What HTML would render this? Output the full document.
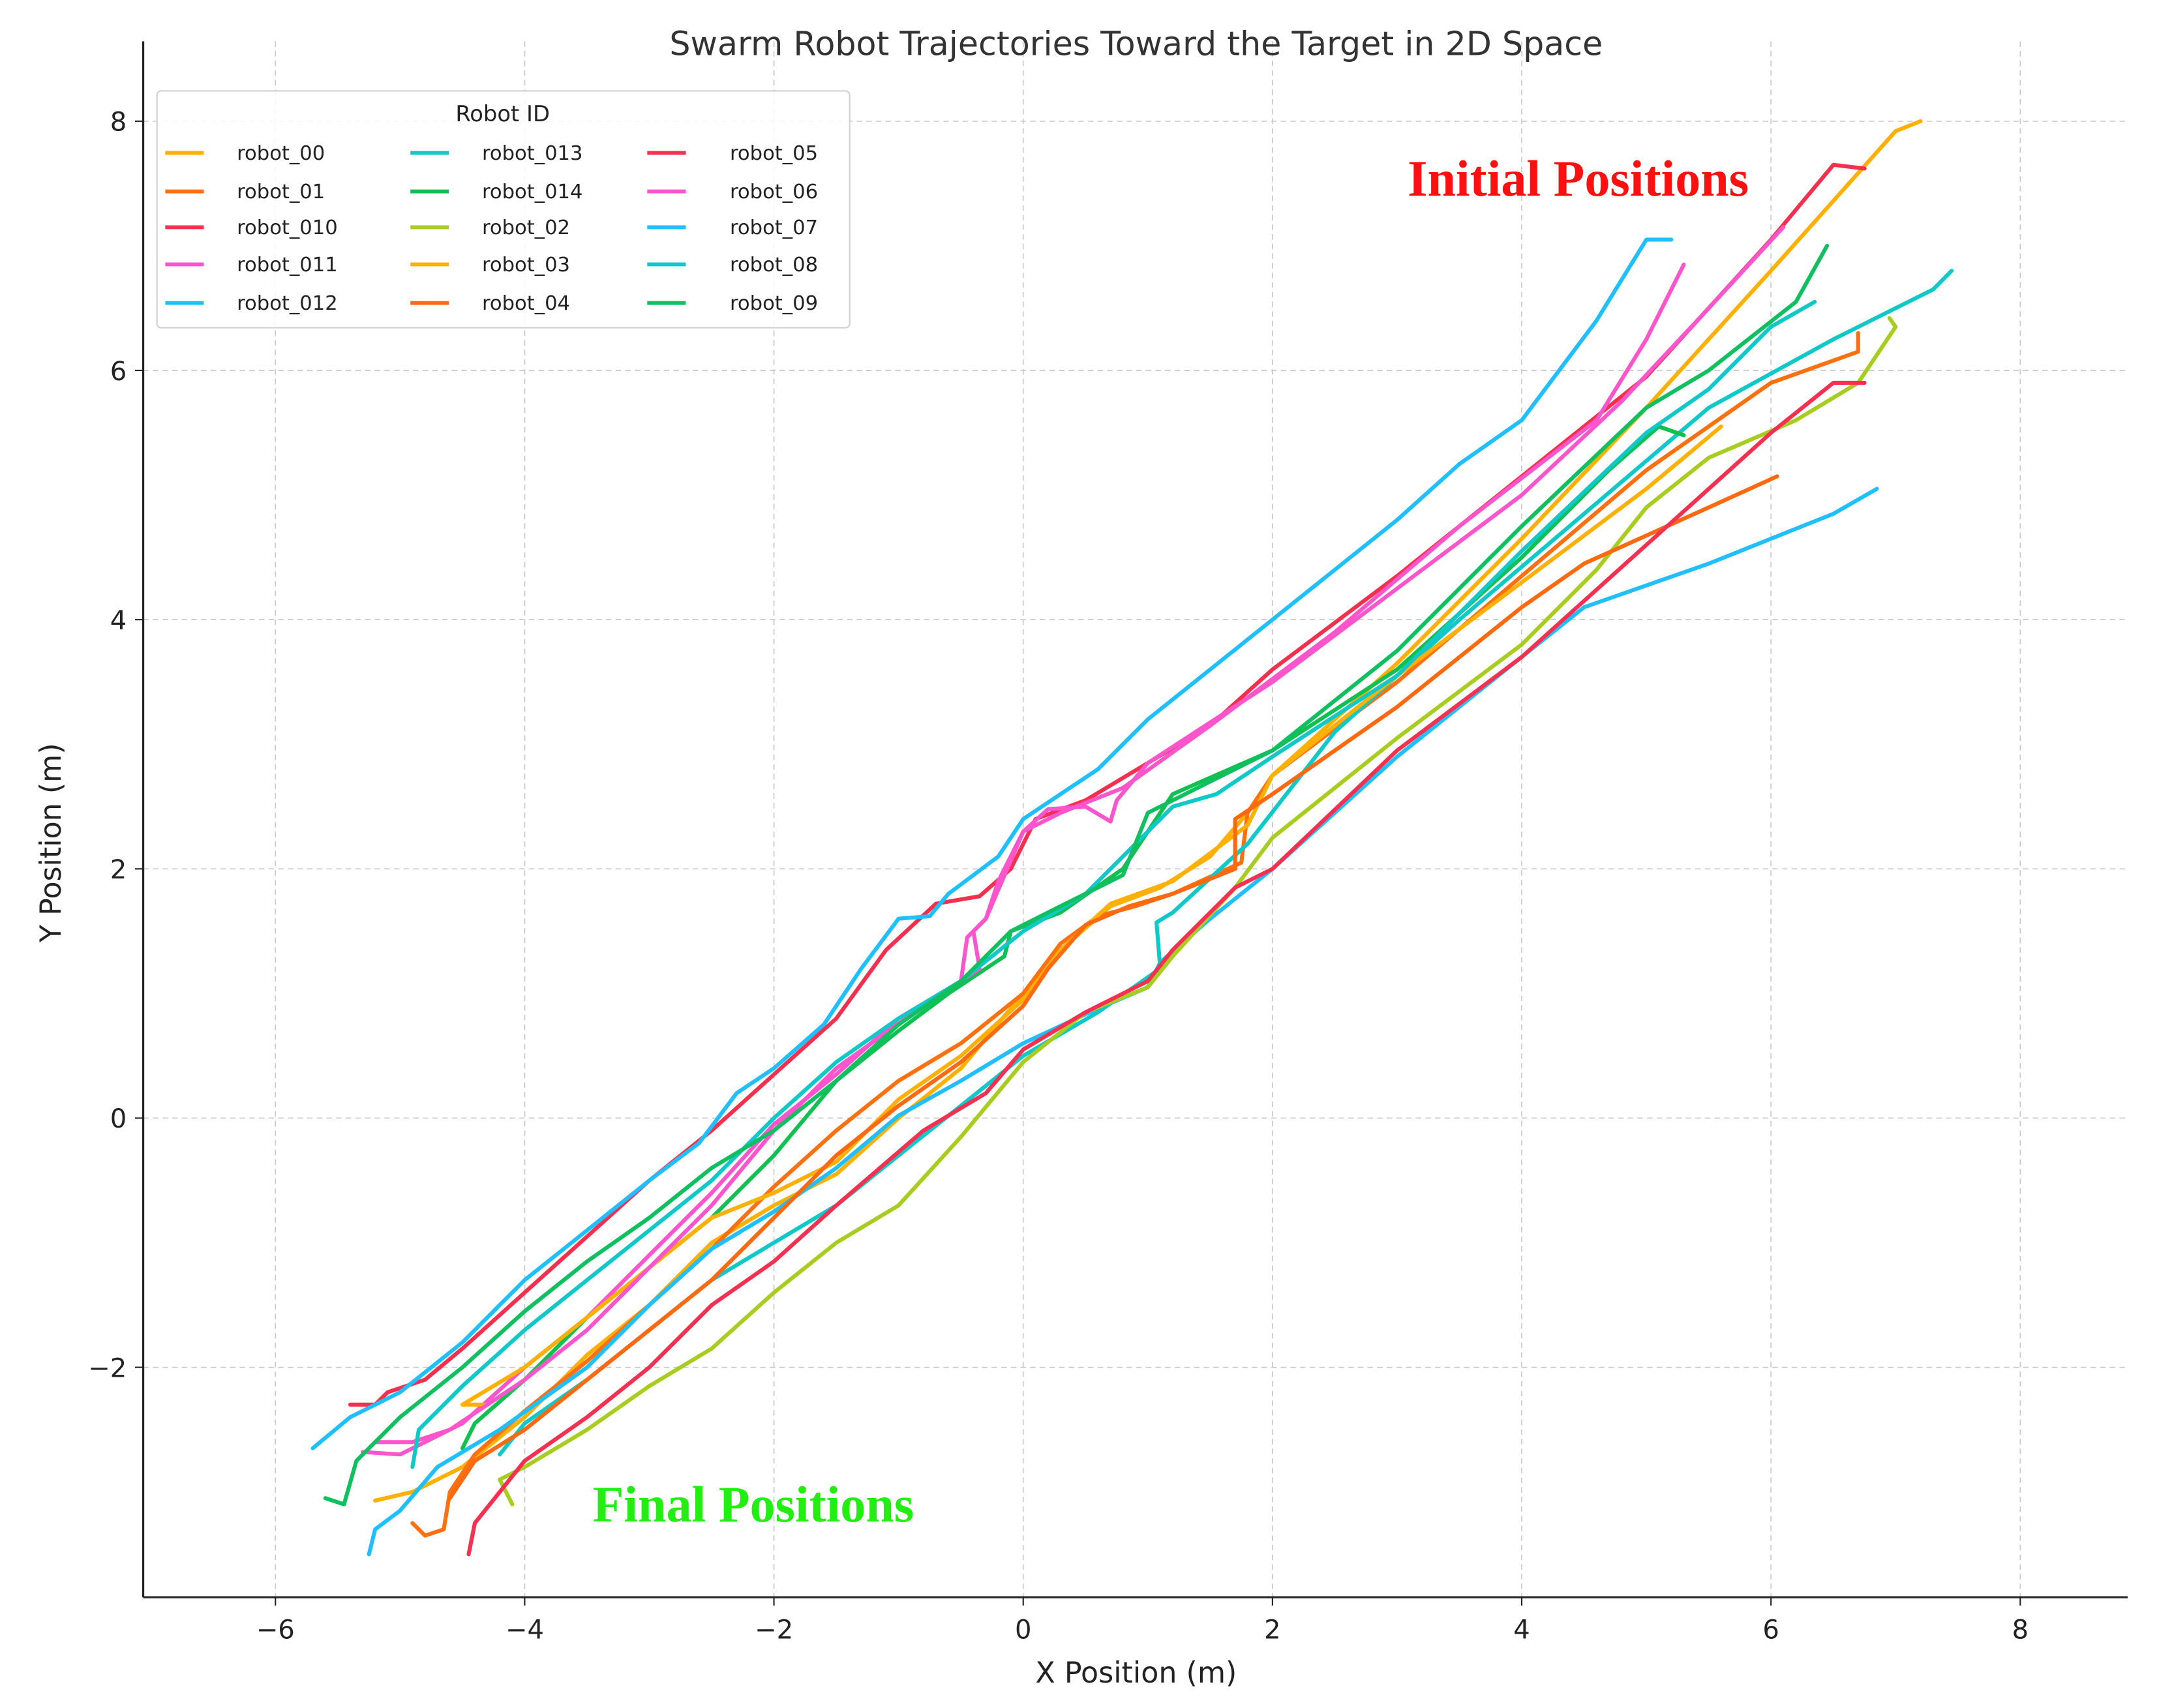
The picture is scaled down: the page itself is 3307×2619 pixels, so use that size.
<!DOCTYPE html>
<html><head><meta charset="utf-8"><style>
html,body{margin:0;padding:0;background:#fff;}
svg{display:block;font-family:"DejaVu Sans","Liberation Sans",sans-serif;}
</style></head><body>
<svg id="chart" width="3307" height="2619" viewBox="0 0 1566.3 1240.4" xmlns="http://www.w3.org/2000/svg">
<rect width="1566.3" height="1240.4" fill="#fff"/>
<g id="grid"></g>
<g id="series"></g>
<g id="axes"></g>
<text x="825" y="40" text-anchor="middle" font-size="24" fill="#333">Swarm Robot Trajectories Toward the Target in 2D Space</text>
<text x="825" y="1222" text-anchor="middle" font-size="21" fill="#222">X Position (m)</text>
<text transform="translate(44,612) rotate(-90)" text-anchor="middle" font-size="21" fill="#222">Y Position (m)</text>
<text x="1146" y="142" text-anchor="middle" font-size="37" font-weight="bold" font-family="Liberation Serif, serif" fill="#ff1010">Initial Positions</text>
<text x="547" y="1105" text-anchor="middle" font-size="37" font-weight="bold" font-family="Liberation Serif, serif" fill="#22ee11">Final Positions</text>
<g id="legend"></g>
</svg>
<script>
const xTicks = [-6,-4,-2,0,2,4,6,8];
const yTicks = [-2,0,2,4,6,8];
const robotIds = ["robot_00","robot_01","robot_010","robot_011","robot_012","robot_013","robot_014","robot_02","robot_03","robot_04","robot_05","robot_06","robot_07","robot_08","robot_09"];
const robotColors = ["#ffb000","#ff7010","#f5304f","#ff55cc","#20bfff","#10c8c8","#10c050","#a8cc20","#ffb000","#ff6a10","#f53050","#ff55cc","#20bfff","#10c8c8","#10c060"];
const r00 = [[7.2,8.0],[7.0,7.92],[6,6.8],[5,5.7],[4,4.65],[3,3.65],[2,2.75],[1.8,2.45],[1.5,2.1],[1.1,1.85],[0.7,1.7],[0.3,1.35],[0,1.0],[-0.5,0.4],[-1,0],[-1.5,-0.45],[-2,-0.7],[-2.5,-1.0],[-3,-1.5],[-3.5,-1.9],[-4,-2.4],[-4.5,-2.8],[-4.9,-3.0],[-5.2,-3.07]];
const r01 = [[6.7,6.3],[6.7,6.15],[6,5.9],[5,5.2],[4,4.35],[3,3.5],[2,2.75],[1.8,2.45],[1.75,2.05],[1.2,1.8],[0.9,1.7],[0.6,1.62],[0.3,1.4],[0,1.0],[-0.5,0.6],[-1,0.3],[-1.5,-0.1],[-2,-0.55],[-2.5,-1.05],[-3,-1.5],[-3.5,-1.95],[-4,-2.35],[-4.4,-2.7],[-4.6,-3.0],[-4.65,-3.3],[-4.8,-3.35],[-4.9,-3.25]];
const r010 = [[6.75,7.62],[6.5,7.65],[6,7.05],[5,5.95],[4,5.15],[3,4.35],[2,3.6],[1.5,3.15],[1,2.85],[0.5,2.55],[0.1,2.4],[-0.1,2.0],[-0.35,1.78],[-0.7,1.72],[-1.1,1.35],[-1.5,0.8],[-2,0.35],[-2.5,-0.1],[-3,-0.5],[-3.5,-0.95],[-4,-1.4],[-4.5,-1.85],[-4.8,-2.1],[-5.1,-2.2],[-5.2,-2.3],[-5.4,-2.3]];
const r011 = [[6.1,7.15],[5.5,6.5],[4.8,5.75],[4,5.0],[3,4.25],[2,3.5],[1,2.85],[0.75,2.55],[0.7,2.38],[0.5,2.5],[0.2,2.48],[0,2.3],[-0.2,1.9],[-0.3,1.6],[-0.45,1.45],[-0.5,1.1],[-1,0.8],[-1.5,0.35],[-2,-0.05],[-2.5,-0.6],[-3,-1.1],[-3.5,-1.6],[-4,-2.0],[-4.5,-2.45],[-4.8,-2.6],[-5.0,-2.7],[-5.3,-2.68]];
const r012 = [[6.85,5.05],[6.5,4.85],[5.5,4.45],[4.5,4.1],[4,3.7],[3,2.9],[2,2.0],[1.5,1.6],[1.1,1.25],[1,1.05],[0.6,0.88],[0,0.6],[-0.5,0.3],[-1,0.02],[-1.5,-0.4],[-2,-0.75],[-2.5,-1.05],[-3,-1.5],[-3.5,-2.0],[-4.2,-2.5],[-4.7,-2.8],[-5.0,-3.15],[-5.2,-3.3],[-5.25,-3.5]];
const r013 = [[7.45,6.8],[7.3,6.65],[6.5,6.25],[5.5,5.7],[4.5,4.85],[3.5,4.0],[2.5,3.1],[1.8,2.2],[1.2,1.65],[1.07,1.57],[1.1,1.2],[0.6,0.85],[0,0.5],[-0.5,0.1],[-1,-0.3],[-1.5,-0.7],[-2,-1.0],[-2.5,-1.3],[-3,-1.7],[-3.5,-2.1],[-4,-2.45],[-4.2,-2.7]];
const r014 = [[5.3,5.48],[5.1,5.55],[4.7,5.2],[4,4.5],[3,3.6],[2,2.95],[1.2,2.6],[0.8,2.0],[0.3,1.65],[-0.1,1.5],[-0.15,1.3],[-0.6,1.0],[-1,0.7],[-1.5,0.3],[-2,-0.3],[-2.5,-0.8],[-3,-1.2],[-3.5,-1.6],[-4,-2.1],[-4.4,-2.45],[-4.5,-2.65]];
const r02 = [[6.95,6.42],[7.0,6.35],[6.7,5.9],[6.2,5.6],[5.5,5.3],[5,4.9],[4.6,4.4],[4,3.8],[3,3.05],[2,2.25],[1.7,1.85],[1.2,1.3],[1.0,1.05],[0.5,0.85],[0,0.45],[-0.5,-0.15],[-1,-0.7],[-1.5,-1.0],[-2,-1.4],[-2.5,-1.85],[-3,-2.15],[-3.5,-2.5],[-4,-2.8],[-4.2,-2.9],[-4.1,-3.1]];
const r03 = [[5.6,5.55],[5.3,5.3],[5,5.05],[4,4.3],[3,3.55],[2,2.75],[1.8,2.35],[1.2,1.9],[0.7,1.72],[0.3,1.35],[0,0.95],[-0.5,0.5],[-1,0.15],[-1.5,-0.35],[-2,-0.6],[-2.5,-0.8],[-3,-1.2],[-3.5,-1.6],[-4,-2.0],[-4.5,-2.3],[-4.3,-2.3]];
const r04 = [[6.05,5.15],[5.5,4.9],[4.5,4.45],[4,4.1],[3,3.3],[2,2.6],[1.7,2.4],[1.7,2.0],[1.2,1.8],[0.85,1.7],[0.5,1.55],[0.2,1.2],[0,0.9],[-0.5,0.45],[-1,0.1],[-1.5,-0.3],[-2,-0.8],[-2.5,-1.3],[-3,-1.7],[-3.5,-2.1],[-4,-2.5],[-4.4,-2.75],[-4.6,-3.05]];
const r05 = [[6.75,5.9],[6.5,5.9],[6,5.5],[5.5,5.05],[5,4.6],[4,3.7],[3,2.95],[2,2.0],[1.7,1.85],[1.2,1.35],[1,1.1],[0.5,0.85],[0,0.55],[-0.3,0.2],[-0.8,-0.1],[-1.5,-0.7],[-2,-1.15],[-2.5,-1.5],[-3,-2.0],[-3.5,-2.4],[-4,-2.75],[-4.2,-3.0],[-4.4,-3.25],[-4.45,-3.5]];
const r06 = [[5.3,6.85],[5,6.25],[4.6,5.6],[3.5,4.75],[2.5,3.9],[1.5,3.15],[0.8,2.65],[0.3,2.45],[0,2.3],[-0.3,1.6],[-0.4,1.5],[-0.35,1.2],[-0.8,0.9],[-1.5,0.4],[-2,-0.1],[-2.5,-0.7],[-3,-1.2],[-3.5,-1.7],[-4,-2.1],[-4.6,-2.5],[-4.9,-2.6],[-5.2,-2.6]];
const r07 = [[5.2,7.05],[5.0,7.05],[4.6,6.4],[4.0,5.6],[3.5,5.25],[3,4.8],[2,4.0],[1,3.2],[0.6,2.8],[0,2.4],[-0.2,2.1],[-0.6,1.8],[-0.75,1.62],[-1,1.6],[-1.3,1.2],[-1.6,0.75],[-2,0.4],[-2.3,0.2],[-2.6,-0.2],[-3,-0.5],[-3.5,-0.9],[-4,-1.3],[-4.5,-1.8],[-5,-2.2],[-5.4,-2.4],[-5.7,-2.65]];
const r08 = [[6.35,6.55],[6,6.35],[5.5,5.85],[5,5.5],[4,4.55],[3,3.55],[2,2.9],[1.55,2.6],[1.2,2.5],[0.9,2.2],[0.5,1.8],[0,1.5],[-0.5,1.1],[-1,0.8],[-1.5,0.45],[-2,0],[-2.5,-0.5],[-3,-0.9],[-3.5,-1.3],[-4,-1.7],[-4.5,-2.15],[-4.85,-2.5],[-4.9,-2.8]];
const r09 = [[6.45,7.0],[6.2,6.55],[5.5,6.0],[5,5.7],[4,4.75],[3,3.75],[2,2.95],[1.5,2.7],[1.0,2.45],[0.8,1.95],[0.3,1.7],[-0.1,1.5],[-0.5,1.1],[-1,0.75],[-1.5,0.3],[-2,-0.1],[-2.5,-0.4],[-3,-0.8],[-3.5,-1.15],[-4,-1.55],[-4.5,-2.0],[-5,-2.4],[-5.35,-2.75],[-5.45,-3.1],[-5.6,-3.05]];
const robotPaths = [r00,r01,r010,r011,r012,r013,r014,r02,r03,r04,r05,r06,r07,r08,r09];

const NS = "http://www.w3.org/2000/svg";
const X0 = 743, Y0 = 812, PX = 90.5;
const LEFT = 104, RIGHT = 1545, TOP = 30, BOTTOM = 1160;
function sx(v){ return X0 + v*PX; }
function sy(v){ return Y0 - v*PX; }
function mk(tag, attrs, parent){
  const e = document.createElementNS(NS, tag);
  for (const k in attrs) e.setAttribute(k, attrs[k]);
  parent.appendChild(e);
  return e;
}
const grid = document.getElementById('grid');
const axes = document.getElementById('axes');
const series = document.getElementById('series');
const legend = document.getElementById('legend');

xTicks.forEach(t => {
  const g = mk('line', {x1:sx(t), x2:sx(t), y1:TOP, y2:BOTTOM, stroke:'#c8c8c8', 'stroke-width':0.8, 'stroke-dasharray':'4,3'}, grid);
  
  
  const tk = mk('line', {x1:sx(t), x2:sx(t), y1:BOTTOM, y2:BOTTOM+6, stroke:'#222', 'stroke-width':1}, axes);
  
  
  const lb = mk('text', {x:sx(t), y:BOTTOM+30, 'text-anchor':'middle', 'font-size':19, fill:'#222'}, axes);
  lb.textContent = t < 0 ? '\u2212' + Math.abs(t) : String(t);
  
  
});
yTicks.forEach(t => {
  const g = mk('line', {x1:LEFT, x2:RIGHT, y1:sy(t), y2:sy(t), stroke:'#c8c8c8', 'stroke-width':0.8, 'stroke-dasharray':'4,3'}, grid);
  
  
  const tk = mk('line', {x1:LEFT-6, x2:LEFT, y1:sy(t), y2:sy(t), stroke:'#222', 'stroke-width':1}, axes);
  
  
  const lb = mk('text', {x:LEFT-12, y:sy(t)+7, 'text-anchor':'end', 'font-size':19, fill:'#222'}, axes);
  lb.textContent = t < 0 ? '\u2212' + Math.abs(t) : String(t);
  
  
});
const ls = mk('line', {x1:LEFT, x2:LEFT, y1:TOP, y2:BOTTOM, stroke:'#222', 'stroke-width':1.5}, axes);


const bs = mk('line', {x1:LEFT, x2:RIGHT, y1:BOTTOM, y2:BOTTOM, stroke:'#222', 'stroke-width':1.5}, axes);



robotPaths.forEach((pts, i) => {
  const d = pts.map((p, j) => (j ? 'L' : 'M') + sx(p[0]).toFixed(1) + ',' + sy(p[1]).toFixed(1)).join(' ');
  const p = mk('path', {d:d, fill:'none', stroke:robotColors[i], 'stroke-width':2.9, 'stroke-linejoin':'round', 'stroke-linecap':'round'}, series);
  
  
});

const lbox = mk('rect', {x:114, y:66, width:503, height:172, rx:3, fill:'#fff', 'fill-opacity':0.85, stroke:'#d0d0d0', 'stroke-width':1}, legend);


const lt = mk('text', {x:365, y:88, 'text-anchor':'middle', 'font-size':16, fill:'#222'}, legend);
lt.textContent = 'Robot ID';


const lineX = [120, 298, 470];
const textX = [172, 350, 530];
const rowY = [111, 139, 165, 192, 220];
robotIds.forEach((id, i) => {
  const c = Math.floor(i/5), r = i%5;
  const g = mk('g', {}, legend);
  
  
  mk('line', {x1:lineX[c], x2:lineX[c]+28, y1:rowY[r], y2:rowY[r], stroke:robotColors[i], 'stroke-width':2.8}, g);
  const t = mk('text', {x:textX[c], y:rowY[r]+5, 'font-size':14.5, fill:'#222'}, g);
  t.textContent = id;
});
</script>
</body></html>
